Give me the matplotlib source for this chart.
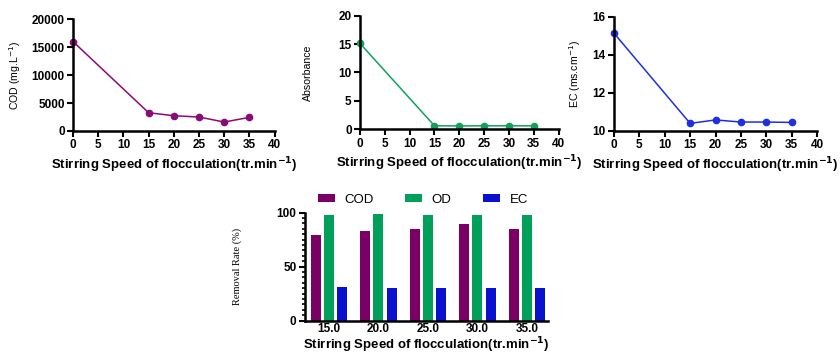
import matplotlib.pyplot as plt
from matplotlib.ticker import MultipleLocator

speed = [0, 15, 20, 25, 30, 35]
cod = [16000, 3270, 2730, 2500, 1600, 2440]
absorbance = [15.1, 0.6, 0.58, 0.6, 0.6, 0.6]
ec = [15.13, 10.40, 10.58, 10.47, 10.47, 10.45]

bar_labels = ["15.0", "20.0", "25.0", "30.0", "35.0"]
cod_removal = [79.5, 83.0, 85.0, 89.6, 85.3]
od_removal = [97.9, 98.5, 98.0, 98.0, 98.0]
ec_removal = [31.2, 30.0, 30.6, 30.6, 30.6]

plt.rcParams['font.family'] = ['Liberation Sans', 'DejaVu Sans']

purple = '#8a0a78'
green = '#12a05c'
blue = '#1f2fe0'

xlabel = r"Stirring Speed of flocculation(tr.min$^{\mathbf{-1}}$)"

fig = plt.figure(figsize=(8.4, 3.55), dpi=100)


def style_axes(ax):
    for s in ['top', 'right']:
        ax.spines[s].set_visible(False)
    for s in ['left', 'bottom']:
        ax.spines[s].set_linewidth(1.8)
    ax.tick_params(direction='out', length=4, width=1.5, labelsize=8.5, pad=2)
    for lab in ax.get_xticklabels() + ax.get_yticklabels():
        lab.set_fontweight('bold')


def line_panel(rect, y, color, ylim, ystep, ylabel, ylabel_x):
    ax = fig.add_axes(rect)
    ax.plot(speed, y, color=color, lw=1.1, marker='o', ms=4.5, clip_on=False)
    ax.set_xlim(0, 40)
    ax.set_ylim(*ylim)
    ax.xaxis.set_major_locator(MultipleLocator(5))
    ax.yaxis.set_major_locator(MultipleLocator(ystep))
    style_axes(ax)
    ax.set_ylabel(ylabel, fontsize=7.6)
    ax.yaxis.set_label_coords(ylabel_x, 0.5)
    ax.set_xlabel(xlabel, fontsize=9.5, fontweight='bold', labelpad=3)
    return ax


line_panel([0.0869, 0.631, 0.240, 0.315], cod, purple, (0, 20000), 5000,
           r"COD (mg.L$^{-1}$)", -0.25)
line_panel([0.4286, 0.636, 0.2364, 0.320], absorbance, green, (0, 20), 5,
           "Absorbance", -0.236)
line_panel([0.731, 0.631, 0.2416, 0.322], ec, blue, (10, 16), 2,
           r"EC (ms.cm$^{-1}$)", -0.153)

# bar chart
ax = fig.add_axes([0.363, 0.097, 0.289, 0.304])
idx = list(range(len(bar_labels)))
w = 0.2
ax.bar([i - 0.26 for i in idx], cod_removal, w, color='#7a0066', label='COD')
ax.bar(idx, od_removal, w, color='#00a05a', label='OD')
ax.bar([i + 0.27 for i in idx], ec_removal, w, color='#0a10d0', label='EC')
ax.set_xlim(-0.48, 4.42)
ax.set_ylim(0, 100)
ax.set_xticks(idx)
ax.set_xticklabels(bar_labels)
ax.yaxis.set_major_locator(MultipleLocator(50))
ax.yaxis.set_minor_locator(MultipleLocator(5))
style_axes(ax)
ax.tick_params(axis='x', length=0, pad=2)
ax.tick_params(axis='y', which='minor', length=2.5, width=1.2)
ax.set_ylabel("Removal Rate (%)", fontsize=7.5, family='Liberation Serif')
ax.yaxis.set_label_coords(-0.26, 0.5)
ax.set_xlabel(xlabel, fontsize=9.5, fontweight='bold', labelpad=0)
ax.legend(ncol=3, loc='lower left', bbox_to_anchor=(0.02, 0.99), frameon=False,
          fontsize=9.5, handlelength=1.3, handleheight=0.5, columnspacing=2.4,
          handletextpad=0.7, borderaxespad=0.2)

fig.savefig('out.png', dpi=100)
